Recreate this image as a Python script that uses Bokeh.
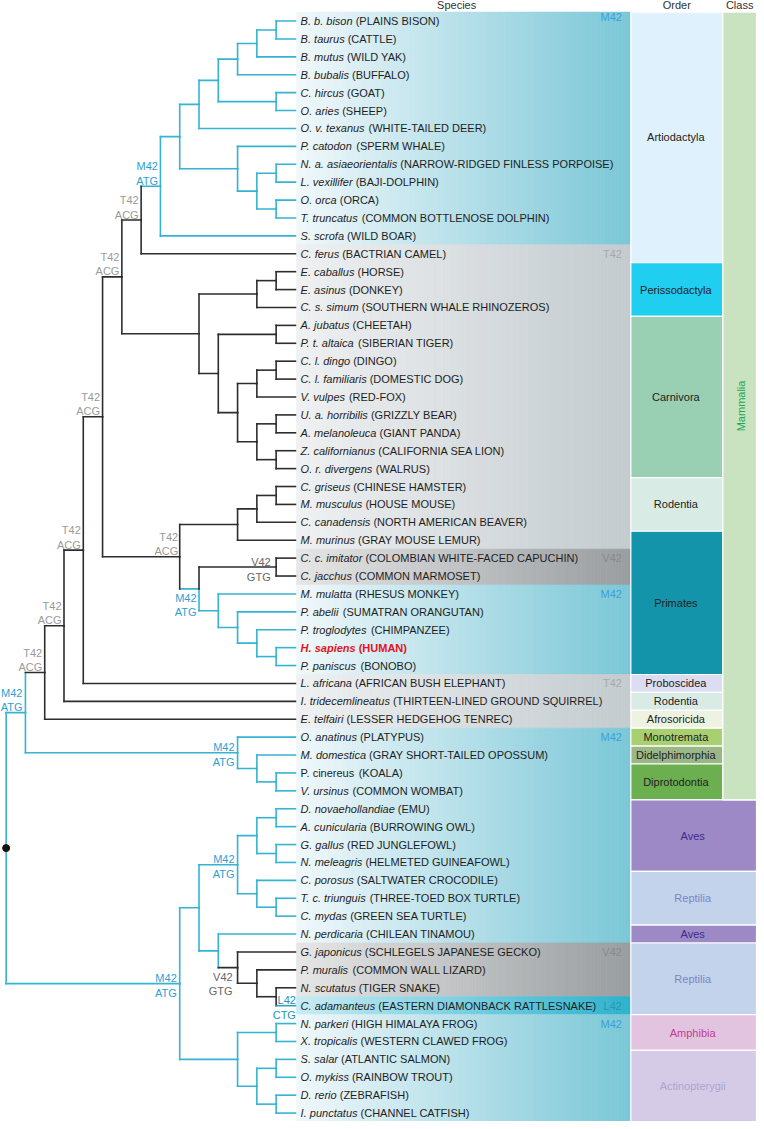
import numpy as np
from bokeh.plotting import figure
from bokeh.models import Range1d
from bokeh.core.properties import value
from bokeh.embed import file_html
from bokeh.resources import INLINE

# ---------------- DATA ----------------
species_italic = [
    "B. b. bison", "B. taurus", "B. mutus", "B. bubalis", "C. hircus", "O. aries",
    "O. v. texanus", "P. catodon", "N. a. asiaeorientalis", "L. vexillifer", "O. orca",
    "T. truncatus", "S. scrofa", "C. ferus", "E. caballus", "E. asinus", "C. s. simum",
    "A. jubatus", "P. t. altaica", "C. l. dingo", "C. l. familiaris", "V. vulpes",
    "U. a. horribilis", "A. melanoleuca", "Z. californianus", "O. r. divergens",
    "C. griseus", "M. musculus", "C. canadensis", "M. murinus", "C. c. imitator",
    "C. jacchus", "M. mulatta", "P. abelii", "P. troglodytes", "H. sapiens", "P. paniscus",
    "L. africana", "I. tridecemlineatus", "E. telfairi", "O. anatinus", "M. domestica",
    "P. cinereus", "V. ursinus", "D. novaehollandiae", "A. cunicularia", "G. gallus",
    "N. meleagris", "C. porosus", "T. c. triunguis", "C. mydas", "N. perdicaria",
    "G. japonicus", "P. muralis", "N. scutatus", "C. adamanteus", "N. parkeri",
    "X. tropicalis", "S. salar", "O. mykiss", "D. rerio", "I. punctatus",
]
species_common = [
    "(PLAINS BISON)", "(CATTLE)", "(WILD YAK)", "(BUFFALO)", "(GOAT)", "(SHEEP)",
    "(WHITE-TAILED DEER)", "(SPERM WHALE)", "(NARROW-RIDGED FINLESS PORPOISE)",
    "(BAJI-DOLPHIN)", "(ORCA)", "(COMMON BOTTLENOSE DOLPHIN)", "(WILD BOAR)",
    "(BACTRIAN CAMEL)", "(HORSE)", "(DONKEY)", "(SOUTHERN WHALE RHINOZEROS)",
    "(CHEETAH)", "(SIBERIAN TIGER)", "(DINGO)", "(DOMESTIC DOG)", "(RED-FOX)",
    "(GRIZZLY BEAR)", "(GIANT PANDA)", "(CALIFORNIA SEA LION)", "(WALRUS)",
    "(CHINESE HAMSTER)", "(HOUSE MOUSE)", "(NORTH AMERICAN BEAVER)", "(GRAY MOUSE LEMUR)",
    "(COLOMBIAN WHITE-FACED CAPUCHIN)", "(COMMON MARMOSET)", "(RHESUS MONKEY)",
    "(SUMATRAN ORANGUTAN)", "(CHIMPANZEE)", "(HUMAN)", "(BONOBO)",
    "(AFRICAN BUSH ELEPHANT)", "(THIRTEEN-LINED GROUND SQUIRREL)",
    "(LESSER HEDGEHOG TENREC)", "(PLATYPUS)", "(GRAY  SHORT-TAILED OPOSSUM)", "(KOALA)",
    "(COMMON WOMBAT)", "(EMU)", "(BURROWING OWL)", "(RED JUNGLEFOWL)",
    "(HELMETED GUINEAFOWL)", "(SALTWATER CROCODILE)", "(THREE-TOED BOX TURTLE)",
    "(GREEN SEA TURTLE)", "(CHILEAN TINAMOU)", "(SCHLEGELS JAPANESE GECKO)",
    "(COMMON WALL LIZARD)", "(TIGER SNAKE)", "(EASTERN DIAMONBACK RATTLESNAKE)",
    "(HIGH HIMALAYA FROG)", "(WESTERN CLAWED FROG)", "(ATLANTIC SALMON)",
    "(RAINBOW TROUT)", "(ZEBRAFISH)", "(CHANNEL CATFISH)",
]
upright_rows = [42]
highlight_rows = [35]

# branch substitution labels
branch_labels = {
    "b1": ("M42", "ATG"), "b2": ("T42", "ACG"), "b3": ("T42", "ACG"),
    "b4": ("T42", "ACG"), "b5": ("T42", "ACG"), "b6": ("T42", "ACG"),
    "b7": ("T42", "ACG"), "b8": ("T42", "ACG"), "b9": ("M42", "ATG"),
    "b10": ("M42", "ATG"), "b11": ("M42", "ATG"), "b12": ("V42", "GTG"),
    "b13": ("M42", "ATG"), "b14": ("M42", "ATG"), "b15": ("V42", "GTG"),
    "b16": ("L42", "CTG"),
}


def N(lv, a, b, st=None, lab=None, vchild=False):
    return {"lv": lv, "kids": [a, b], "st": st, "lab": lab, "vchild": vchild}


def Lf(i, st=None, lab=None):
    return {"leaf": i, "st": st, "lab": lab, "vchild": False}


artio = N(8,
          N(9,
            N(10,
              N(11, N(12, N(13, N(14, 0, 1), 2), 3), N(14, 4, 5)),
              6),
            N(12, 7, N(13, N(14, 8, 9), N(14, 10, 11)))),
          12, st="M", lab="b1")
carn = N(11, N(14, 17, 18),
         N(12, N(13, N(14, 19, 20), 21), N(13, N(14, 22, 23), N(14, 24, 25))))
laur = N(6, N(7, artio, 13, st="T", lab="b2"),
         N(10, N(13, N(14, 14, 15), 16), carn), st="T", lab="b3")
primates = N(10, N(14, 30, 31, st="V", lab="b12", vchild=True),
             N(11, 32, N(12, 33, N(13, 34, N(14, 35, 36)))), st="M", lab="b11")
euarch = N(9, N(12, N(13, N(14, 26, 27), 28), 29), primates, st="T", lab="b6")
mammals = N(1,
            N(2, N(3, N(4, N(5, laur, euarch, st="T", lab="b4"), 37, st="T", lab="b5"),
                   38, st="T", lab="b7"), 39, st="T", lab="b8"),
            N(12, 40, N(13, 41, N(14, 42, 43)), st="M", lab="b10"),
            st="M", lab="b9")
others = N(9,
           N(10,
             N(12, N(13, N(14, 44, 45), N(14, 46, 47)), N(13, 48, N(14, 49, 50)),
               st="M", lab="b14"),
             N(11, 51, N(12, 52, N(13, 53, N(14, 54, Lf(55, st="L", lab="b16"))),
                         st="V", lab="b15"))),
           N(12, N(14, 56, 57), N(13, N(14, 58, 59), N(14, 60, 61))),
           st="M", lab="b13")
tree = N(0, mammals, others, st="M")

# residue state per row block (panel)
panel_blocks = [(0, 12, "M"), (13, 29, "T"), (30, 31, "V"), (32, 36, "M"),
                (37, 39, "T"), (40, 51, "M"), (52, 54, "V"), (55, 55, "L"), (56, 61, "M")]

orders = ["Artiodactyla", "Perissodactyla", "Carnivora", "Rodentia", "Primates",
          "Proboscidea", "Rodentia", "Afrosoricida", "Monotremata", "Didelphimorphia",
          "Diprotodontia", "Aves", "Reptilia", "Aves", "Reptilia", "Amphibia",
          "Actinopterygii"]
order_first = [0, 14, 17, 26, 29, 37, 38, 39, 40, 41, 42, 44, 48, 51, 52, 56, 58]
order_last = [13, 16, 25, 28, 36, 37, 38, 39, 40, 41, 43, 47, 50, 51, 55, 57, 61]
class_name = "Mammalia"
class_first, class_last = 0, 43

# ---------------- STYLE / LAYOUT ----------------
FONT = value("Liberation Sans")
FS = "11px"
ROW0, DY = 20.7, 18.03
X0, DX = 5.7, 19.49
LEAF_X = X0 + 15 * DX
TXT_X = 303.3
PANEL_L, PANEL_R = 299.0, 636.5
ORD_L, ORD_R, CLS_R = 637.0, 730.0, 764.0
W_PX, H_PX = 756, 1121
SX = W_PX / 764.0

BLUE = "#35b3d2"
BLACK = "#2d2d2d"
TEAL_L = "#2aa3bb"
line_col = {"M": BLUE, "T": BLACK, "V": BLACK, "L": TEAL_L}
lab_col = {"M": "#2f9fd2", "T": "#9a9a9a", "V": "#666666", "L": "#1f95ad"}
panel_lab_col = {"M": "#3aa2d8", "T": "#a9a9a9", "V": "#8a8a8a", "L": "#2a98b0"}
grad = {"M": ((241, 248, 251), (122, 199, 215)),
        "T": ((239, 241, 242), (195, 203, 207)),
        "V": ((230, 230, 230), (152, 157, 160)),
        "L": ((200, 236, 244), (44, 178, 206))}
label_style = {  # placement, right-edge offset from child x
    "b1": ("above", -2.5), "b2": ("above", -2.5), "b3": ("above", -2.5),
    "b4": ("above", -2.5), "b5": ("above", -2.5), "b6": ("above", -1.5),
    "b7": ("above", -2.5), "b8": ("above", -2.5), "b9": ("above", -3.0),
    "b10": ("straddle", -3.0), "b11": ("below", -2.5), "b12": ("straddle", -5.5),
    "b13": ("straddle", -3.0), "b14": ("straddle", -3.0), "b15": ("below", -5.0),
    "b16": ("straddle", 0.5),
}
dy_style = {"above": (-20.0, -5.5), "straddle": (-5.5, 9.5), "below": (9.0, 23.5)}
order_fill = {"Artiodactyla": "#dff1fc", "Perissodactyla": "#20cef0", "Carnivora": "#99cfb3",
              "Rodentia": "#d8ece5", "Primates": "#1494aa", "Proboscidea": "#dcdcf2",
              "Afrosoricida": "#eef3e1", "Monotremata": "#a8d070",
              "Didelphimorphia": "#9cb787", "Diprotodontia": "#6caf50", "Aves": "#9d89c5",
              "Reptilia": "#c3d3ec", "Amphibia": "#e3c4e0", "Actinopterygii": "#d5cbe6"}
order_text = {"Aves": "#3b2e8c", "Reptilia": "#7b86c0", "Amphibia": "#c23c90",
              "Actinopterygii": "#aea5cf"}

# Arial / Liberation Sans advance widths (1/1000 em)
AW = {' ': 278, '.': 278, '-': 333, '(': 333, ')': 333,
      'a': 556, 'b': 556, 'c': 500, 'd': 556, 'e': 556, 'f': 278, 'g': 556, 'h': 556,
      'i': 222, 'j': 222, 'k': 500, 'l': 222, 'm': 833, 'n': 556, 'o': 556, 'p': 556,
      'q': 556, 'r': 333, 's': 500, 't': 278, 'u': 556, 'v': 500, 'w': 722, 'x': 500,
      'y': 500, 'z': 500, 'A': 667, 'B': 667, 'C': 722, 'D': 722, 'E': 667, 'F': 611,
      'G': 778, 'H': 722, 'I': 278, 'J': 500, 'K': 667, 'L': 556, 'M': 833, 'N': 722,
      'O': 778, 'P': 667, 'Q': 778, 'R': 722, 'S': 667, 'T': 611, 'U': 722, 'V': 667,
      'W': 944, 'X': 667, 'Y': 667, 'Z': 611}
AWB = dict(AW)
AWB.update({'s': 556, 'p': 611, 'i': 278, 'n': 611, 'r': 389, 'l': 278, 't': 333})


def text_w(s, bold=False):
    t = AWB if bold else AW
    return sum(t.get(c, 556) for c in s) * 11.0 / 1000.0


def row_y(i):
    return ROW0 + DY * i


def lvl_x(lv):
    return X0 + DX * lv


p = figure(width=W_PX, height=H_PX, x_range=Range1d(0, 764), y_range=Range1d(1129, 0),
           output_backend="svg", toolbar_location=None, min_border=0)
p.axis.visible = False
p.grid.visible = False
p.outline_line_color = None
p.background_fill_color = "white"
p.border_fill_color = "white"

# ---- gradient panel ----
nstrip = 112
edges = np.linspace(PANEL_L, PANEL_R, nstrip + 1)
ql, qr, qt, qb, qc = [], [], [], [], []
for a, b, st in panel_blocks:
    c0, c1 = np.array(grad[st][0], float), np.array(grad[st][1], float)
    for k in range(nstrip):
        f = (k + 0.5) / nstrip
        c = c0 + (c1 - c0) * f
        ql.append(edges[k]); qr.append(edges[k + 1] + 0.3)
        qt.append(row_y(a) - DY / 2); qb.append(row_y(b) + DY / 2)
        qc.append("#%02x%02x%02x" % tuple(int(round(v)) for v in c))
p.quad(left=ql, right=qr, top=qt, bottom=qb, fill_color=qc, line_color=qc, line_width=0.6)

pl_x, pl_y, pl_t, pl_c = [], [], [], []
for a, b, st in panel_blocks:
    pl_x.append(628.0); pl_y.append(row_y(a) - (4.0 if a == 0 else 0.0))
    pl_t.append(st + "42"); pl_c.append(panel_lab_col[st])
p.text(x=pl_x, y=pl_y, text=pl_t, text_color=pl_c, text_font=FONT, text_font_size=FS,
       text_align="right", text_baseline="middle")

# ---- order / class boxes ----
mam_last = class_last
ol, orr, ot, ob, oc = [], [], [], [], []
tx, ty, tt, tc = [], [], [], []
for name, a, b in zip(orders, order_first, order_last):
    right = ORD_R if b <= mam_last else CLS_R
    ol.append(ORD_L); orr.append(right)
    ot.append(row_y(a) - DY / 2); ob.append(row_y(b) + DY / 2)
    oc.append(order_fill[name])
    tx.append((ORD_L + right) / 2 - 1); ty.append((row_y(a) + row_y(b)) / 2)
    tt.append(name); tc.append(order_text.get(name, "#222222"))
ol.append(ORD_R); orr.append(CLS_R)
ot.append(row_y(class_first) - DY / 2); ob.append(row_y(class_last) + DY / 2)
oc.append("#c9e3c1")
p.quad(left=ol, right=orr, top=ot, bottom=ob, fill_color=oc, line_color="white",
       line_width=1.2)
p.text(x=tx, y=ty, text=tt, text_color=tc, text_font=FONT, text_font_size=FS,
       text_align="center", text_baseline="middle")
p.text(x=[(ORD_R + CLS_R) / 2 + 1], y=[(row_y(class_first) + row_y(class_last)) / 2],
       text=[class_name], angle=np.pi / 2, text_color="#22a84a", text_font=FONT,
       text_font_size=FS, text_align="center", text_baseline="middle")

# headers
p.text(x=[461, (ORD_L + ORD_R) / 2, (ORD_R + CLS_R) / 2], y=[5, 5, 5],
       text=["Species", "Order", "Class"], text_color="#333333", text_font=FONT,
       text_font_size=FS, text_align="center", text_baseline="middle")

# ---- tree ----
segs = {}
labs = []


def add_seg(col, x0, y0, x1, y1):
    segs.setdefault(col, [[], [], [], []])
    s = segs[col]
    s[0].append(x0); s[1].append(y0); s[2].append(x1); s[3].append(y1)


def norm(n):
    return Lf(n) if isinstance(n, int) else n


def place(n, parent_state):
    n = norm(n)
    st = n["st"] or parent_state
    if "leaf" in n:
        return n, LEAF_X, row_y(n["leaf"]), st
    info = [place(c, st) for c in n["kids"]]
    x = lvl_x(n["lv"])
    y = (info[0][2] + info[-1][2]) / 2
    for cn, cx, cy, cst in info:
        vcol = line_col[cst] if cn["vchild"] else line_col[st]
        add_seg(vcol, x, y, x, cy)
        add_seg(line_col[cst], x, cy, cx, cy)
        if cn["lab"]:
            labs.append((cn["lab"], cx, cy, cst))
    return n, x, y, st


_, rx, ry, _ = place(tree, "M")
for col, s in segs.items():
    p.segment(x0=s[0], y0=s[1], x1=s[2], y1=s[3], line_color=col, line_width=1.6,
              line_cap="square")
p.scatter(x=[rx], y=[ry], size=7, color="#111111")

lx, ly, lt, lc = [], [], [], []
for key, cx, cy, cst in labs:
    placement, off = label_style[key]
    d1, d2 = dy_style[placement]
    for txt, d in zip(branch_labels[key], (d1, d2)):
        lx.append(cx + off); ly.append(cy + d); lt.append(txt); lc.append(lab_col[cst])
p.text(x=lx, y=ly, text=lt, text_color=lc, text_font=FONT, text_font_size=FS,
       text_align="right", text_baseline="middle")

# ---- species labels ----
groups = {}
for i, (it, cm) in enumerate(zip(species_italic, species_common)):
    y = row_y(i)
    bold = i in highlight_rows
    col = "#e3141b" if bold else "#1e1e1e"
    style_a = ("bold italic" if bold else ("normal" if i in upright_rows else "italic"))
    style_b = "bold" if bold else "normal"
    wa = text_w(it + " ", bold=bold)
    for xx, txt, sty in ((TXT_X, it, style_a), (TXT_X + wa / SX, cm, style_b)):
        g = groups.setdefault((sty, col), [[], [], []])
        g[0].append(xx); g[1].append(y); g[2].append(txt)
for (sty, col), g in groups.items():
    p.text(x=g[0], y=g[1], text=g[2], text_color=col, text_font=FONT, text_font_size=FS,
           text_font_style=sty, text_align="left", text_baseline="middle")

open("out.html", "w").write(file_html(p, INLINE))
